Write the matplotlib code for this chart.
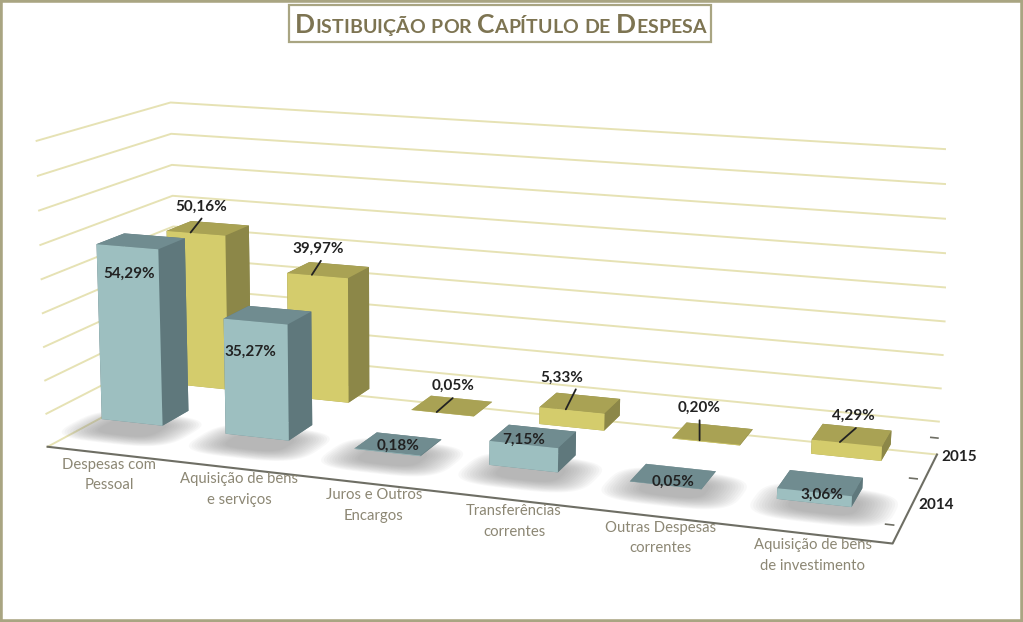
import numpy as np
import matplotlib
matplotlib.use("Agg")
import matplotlib.pyplot as plt
from matplotlib.collections import PolyCollection
from matplotlib.patches import Rectangle
from mpl_toolkits.mplot3d import proj3d

plt.rcParams['font.family'] = ['Lato', 'DejaVu Sans']

#DATA

categories = [
    "Despesas com\nPessoal",
    "Aquisição de bens\ne serviços",
    "Juros e Outros\nEncargos",
    "Transferências\ncorrentes",
    "Outras Despesas\ncorrentes",
    "Aquisição de bens\nde investimento",
]
series_names = ["2014", "2015"]
values_2014 = [54.29, 35.27, 0.18, 7.15, 0.05, 3.06]
values_2015 = [50.16, 39.97, 0.05, 5.33, 0.20, 4.29]
grid_levels = [0, 10, 20, 30, 40, 50, 60, 70, 80, 90]
title_words = ["Distibuição", "por", "Capítulo", "de", "Despesa"]

#STYLE

W, H = 1023, 622
face_2014 = {"front": "#9DBFC0", "top": "#708C90", "side": "#5F787C"}
face_2015 = {"front": "#D4CC6C", "top": "#A9A254", "side": "#8C8748"}
grid_color = "#E6E2B4"
axis_color = "#6E6E64"
cat_color = "#8C8774"
title_color = "#7D7452"
frame_color = "#A9A582"
bar_w = 0.5
bar_d = 0.42

# bar slots, slightly skewed because the fitted camera is not exact
def x_2014(i):
    return 0.27 + i*1.022

def x_2015(i):
    return 0.29 + i*1.022

def y_2014(i):
    return 0.96 - 0.025*i

def y_2015(i):
    return 2.02 - 0.02*i

fig = plt.figure(figsize=(W/100, H/100), dpi=100, facecolor="white")
ax = fig.add_subplot(projection="3d", computed_zorder=False)
ax.set_xlim(0, 6)
ax.set_ylim(0, 2)
ax.set_zlim(0, 90)
ax.set_axis_off()

# camera found by fitting the corners of the chart box
ax.view_init(elev=13.04, azim=-71.56, roll=-0.61)
ax.set_proj_type("persp", focal_length=0.448)
ax.set_box_aspect((1, 0.3407, 0.3665))
s, cx, cy = 928.3, 481.9, 312.9
ax.set_position([(cx - s/2)/W, (H - cy - s/2)/H, s/W, s/H])
ax.patch.set_alpha(0)

#GRID

for z in grid_levels:
    ax.plot([0, 0, 6], [0, 2, 2], [z, z, z], color=grid_color, lw=1.4, zorder=1)

#FLOOR EDGES

ax.plot([0, 6, 6], [0, 0, 2], [0, 0, 0], color=axis_color, lw=1.5, zorder=2)
for y in [0, 1, 2]:
    ax.plot([5.95, 6], [y, y], [5, 5], color=axis_color, lw=1.2, zorder=2)

#SHADOWS

t = np.linspace(0, 2*np.pi, 50)
for i in range(6):
    xc = x_2014(i) + 0.07
    yc = 0.62
    for k in range(14):
        f = 1 - 0.55*k/14
        px = xc + 0.47*f*np.sign(np.cos(t))*np.abs(np.cos(t))**0.6
        py = yc + 0.40*f*np.sign(np.sin(t))*np.abs(np.sin(t))**0.6
        shadow = PolyCollection([np.c_[px, py]], facecolors="#808080", alpha=0.05,
                                edgecolors="none", zorder=3)
        ax.add_collection3d(shadow, zs=0, zdir="z")

#BARS

def draw_bar(x_center, y_center, value, colors, zorder):
    # bar3d colour order: bottom, top, -y, +y, -x, +x
    cols = [colors["top"], colors["top"], colors["front"], colors["side"], colors["side"], colors["side"]]
    ax.bar3d(x_center - bar_w/2, y_center - bar_d/2, 0, bar_w, bar_d, value,
             color=cols, shade=False, linewidth=0, zorder=zorder, edgecolor="none")

for i, v in enumerate(values_2015):
    draw_bar(x_2015(i), y_2015(i), v, face_2015, 10 + i)
for i, v in enumerate(values_2014):
    draw_bar(x_2014(i), y_2014(i), v, face_2014, 20 + i)

#LABELS

fig.canvas.draw()
M = ax.get_proj()

def to_2d(x, y, z):
    u, v, _ = proj3d.proj_transform(x, y, z, M)
    return u, v

def fmt(v):
    return f"{v:.2f}".replace(".", ",") + "%"

offsets_2014 = [(2, -27), (-5, -30), (11, 6), (0, 5), (8, 3), (7, -3)]
for i, v in enumerate(values_2014):
    xy = to_2d(x_2014(i), y_2014(i) - bar_d/2, v)
    ax.annotate(fmt(v), xy=xy, xytext=offsets_2014[i], textcoords="offset pixels",
                ha="center", va="center", fontsize=11, fontweight="bold",
                color="#222222", zorder=40)

leaders_2015 = [(11, 14), (9, 14), (16, 14), (10, 20), (0, 20), (16, 14)]
text_dx_2015 = [0, -3, 0, -14, 0, -3]
for i, v in enumerate(values_2015):
    # leader starts towards the front left of the bar top
    xy = to_2d(x_2015(i) - 0.05, y_2015(i) - 0.2, v)
    dx, dy = leaders_2015[i]
    ax.annotate("", xy=xy, xytext=(dx, dy), textcoords="offset pixels",
                arrowprops=dict(arrowstyle="-", color="#222222", lw=1.3, shrinkA=0, shrinkB=0),
                zorder=39)
    ax.annotate(fmt(v), xy=xy, xytext=(dx + text_dx_2015[i], dy + 12), textcoords="offset pixels",
                ha="center", va="center", fontsize=11, fontweight="bold",
                color="#222222", zorder=40)

for i, name in enumerate(categories):
    xy = to_2d(i + 0.5, 0, 0)
    ax.annotate(name, xy=xy, xytext=(-1, -21), textcoords="offset pixels",
                ha="center", va="center", fontsize=10.7, color=cat_color,
                linespacing=1.6, zorder=40)

series_offsets = [(31, 14), (32, 18)]
for j, name in enumerate(series_names):
    xy = to_2d(6, j + 0.5, 0)
    ax.annotate(name, xy=xy, xytext=series_offsets[j], textcoords="offset pixels",
                ha="center", va="center", fontsize=11, fontweight="bold",
                color="#222222", zorder=40)

#TITLE, small caps built piece by piece

renderer = fig.canvas.get_renderer()
pen = 295
base = H - 33
for word in title_words:
    for ch in word:
        big = ch.isupper()
        t_ch = fig.text(pen/W, base/H, ch.upper(), fontsize=19 if big else 14,
                        fontweight="bold", color=title_color, va="baseline", ha="left")
        pen += t_ch.get_window_extent(renderer).width
    pen += 6

fig.add_artist(Rectangle((289/W, (H - 42)/H), 422/W, 37/H, transform=fig.transFigure,
                         fill=False, edgecolor=frame_color, lw=1.6))

#OUTER FRAME

fig.add_artist(Rectangle((0, 0), 1, 1, transform=fig.transFigure,
                         fill=False, edgecolor=frame_color, lw=4))

fig.savefig("out.png", dpi=100)
